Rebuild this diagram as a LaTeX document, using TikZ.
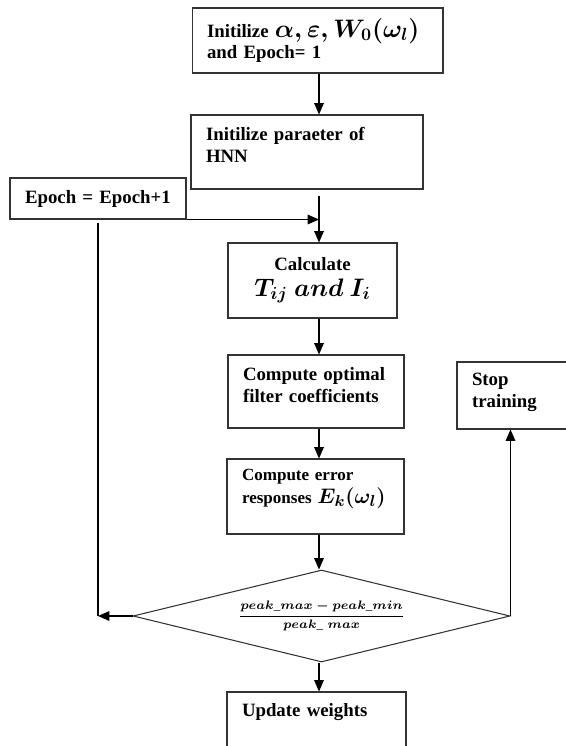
\documentclass[tikz,border=0pt]{standalone}
\usepackage{fontspec}
\setmainfont{Liberation Serif}
\usepackage{amsmath}
\usetikzlibrary{arrows.meta,calc,positioning,shapes.geometric}
\tikzset{%
	block/.style    = {draw=black!80, rectangle, align=left, inner xsep=0.3cm, inner ysep=0.1cm, font=\bfseries\mathversion{bold}\fontsize{10.7}{12.5}\selectfont},
	decision/.style = {draw=black!80, diamond, minimum width=7.54cm, minimum height=1.84cm, inner sep=0pt, aspect=4, font=\mathversion{bold}\fontsize{7.4}{9}\selectfont},
	waypoint/.style = {coordinate},
	arrow/.style    = {-{Triangle[length=6.5pt,width=5.5pt]}},
}
\begin{document}
\begin{tikzpicture}[x=0.02cm,y=-0.02cm,line width=0.6pt]
	\useasboundingbox (0,0) rectangle (565,746);
	\node [block,text width=4.42cm,minimum height=1.3cm] (init) at (317.5,40.5) {Initilize {\fontsize{14}{16}\selectfont$\alpha,\varepsilon,W_0(\omega_l)$}\\and Epoch= 1};
	\node [block,text width=4.04cm,minimum height=1.48cm,text depth=0.72cm] (hnn) at (307,152) {Initilize paraeter of\\HNN};
	\node [block,text width=2.92cm,minimum height=0.82cm] (epoch) at (98,198.5) {Epoch = Epoch+1};
	\node [block,align=center,text width=2.78cm,minimum height=1.5cm] (calc) at (312.5,280.5) {Calculate\\[2pt]{\fontsize{14}{16}\selectfont$T_{ij}\ and\ I_i$}};
	\node [block,text width=2.92cm,minimum height=1.46cm,text depth=0.7cm] (opt) at (316,391.5) {Compute optimal\\filter coefficients};
	\node [block,text width=1.76cm,minimum height=1.34cm,text depth=0.64cm] (stop) at (516,395.5) {Stop\\training};
	\node [block,text width=2.94cm,minimum height=1.5cm,text depth=0.87cm,font=\bfseries\mathversion{bold}\fontsize{9.7}{13}\selectfont] (err) at (315.5,496.5) {Compute error\\responses {\fontsize{12.5}{14}\selectfont$E_k(\omega_l)$}};
	\node [decision] (dec) at (321.5,616) {$\displaystyle\frac{peak\_max-peak\_min}{peak\_\;max}$};
	\node [block,text width=2.98cm,minimum height=1.5cm,text depth=0.79cm] (upd) at (316.5,729.5) {Update weights};

	\coordinate (spine) at (319,0);
	\coordinate (join) at (spine |- epoch.south);
	\coordinate (back) at (epoch.south |- dec.west);

	\draw[arrow] (init.south -| spine) -- (hnn.north -| spine);
	\draw[arrow,shorten <=0.12cm] (hnn.south -| spine) -- (calc.north -| spine);
	\draw[arrow] (epoch.south east) -- (join);
	\draw[arrow] (calc.south -| spine) -- (opt.north -| spine);
	\draw[arrow] (opt.south -| spine) -- (err.north -| spine);
	\draw[arrow] (err.south -| spine) -- (dec.north -| spine);
	\draw[arrow] (dec.south -| spine) -- (upd.north -| spine);
	\draw[arrow] (dec.west) -- (back);
	\draw[shorten <=0.06cm] (epoch.south) -- (back);
	\draw[arrow] (dec.east) -- (dec.east |- stop.south);
\end{tikzpicture}
\end{document}
